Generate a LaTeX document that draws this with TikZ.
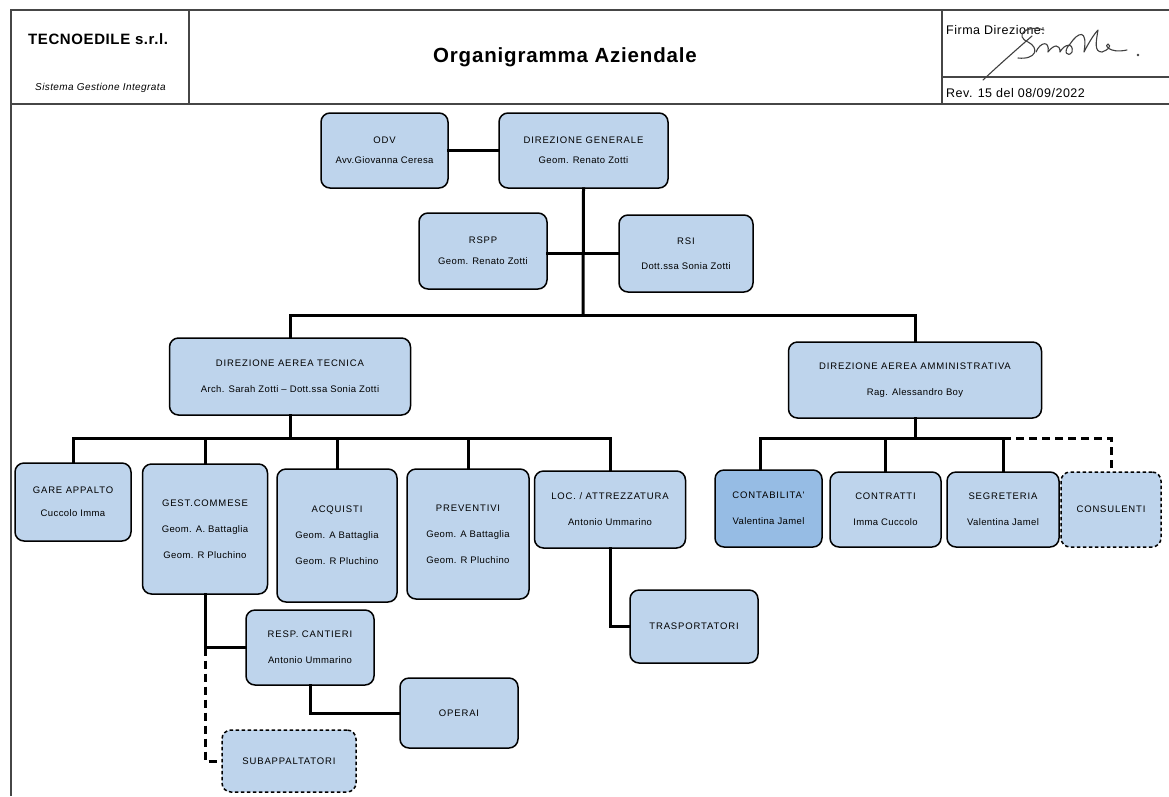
\documentclass[tikz,border=0pt]{standalone}
\usepackage{fontspec}
\setmainfont{Liberation Sans}
\newfontfamily\boxfont[LetterSpace=4]{Liberation Sans}
\newfontfamily\capfont[LetterSpace=9]{Liberation Sans}
\newfontfamily\hdrfont[LetterSpace=4]{Liberation Sans}
\newcommand{\cp}[1]{{\capfont #1}}
\definecolor{boxblue}{RGB}{190,212,236}
\definecolor{boxdark}{RGB}{150,188,228}
\definecolor{framegray}{RGB}{70,70,70}
\tikzset{
  orgbox/.style={draw=black, line width=1.5pt, rounded corners=9pt, fill=boxblue,
    align=center, inner sep=0pt, font=\boxfont\fontsize{9.5}{11}\selectfont},
  darkbox/.style={orgbox, fill=boxdark},
  dashbox/.style={orgbox, dash pattern=on 3.5pt off 2.5pt},
  conn/.style={line width=3pt, line cap=rect},
  dconn/.style={line width=3pt, dash pattern=on 8pt off 5pt},
  frameline/.style={draw=framegray, line width=1.1pt},
  sig/.style={draw=black!75, line width=1.1pt, line cap=round, line join=round}
}
\begin{document}
\begin{tikzpicture}[x=1pt,y=-1pt]
\useasboundingbox (0,0) rectangle (1169,796);
\fill[white] (0,0) rectangle (1169,796);
% header frame
\draw[frameline] (11,796) -- (11,10) -- (1169,10);
\draw[frameline] (11,104) -- (1169,104);
\draw[frameline] (189,10) -- (189,104);
\draw[frameline] (942,10) -- (942,104);
\draw[frameline] (942,77) -- (1169,77);
\node[anchor=west, font=\hdrfont\fontsize{15}{17}\selectfont\bfseries, inner sep=0pt] (company) at (28,39) {TECNOEDILE s.r.l.};
\node[anchor=west, font=\hdrfont\fontsize{10}{12}\selectfont\itshape, inner sep=0pt] (sgi) at (35,88) {Sistema Gestione Integrata};
\node[font=\hdrfont\fontsize{20.5}{22}\selectfont\bfseries, inner sep=0pt] (title) at (565,57) {Organigramma Aziendale};
\node[anchor=west, font=\hdrfont\fontsize{12.5}{14}\selectfont, inner sep=0pt] (firma) at (946,30) {Firma Direzione:};
\node[anchor=west, font=\hdrfont\fontsize{12.5}{14}\selectfont, inner sep=0pt] (rev) at (946,93) {Rev. 15 del 08/09/2022};
% signature
\draw[sig] (983,80) .. controls (1000,64) and (1016,50) .. (1032,36);
\draw[sig] (1044,30) .. controls (1026,24) and (1014,36) .. (1028,42) .. controls (1040,48) and (1036,60) .. (1018,58);
\draw[sig] (1036,52) .. controls (1040,42) and (1050,40) .. (1048,52) .. controls (1054,44) and (1060,44) .. (1060,52)
  .. controls (1064,44) and (1074,42) .. (1072,52) .. controls (1068,58) and (1062,52) .. (1070,44)
  .. controls (1078,32) and (1088,28) .. (1084,52) .. controls (1088,44) and (1094,34) .. (1098,30)
  .. controls (1096,42) and (1094,52) .. (1102,52) .. controls (1108,50) and (1112,46) .. (1108,44)
  .. controls (1104,44) and (1108,54) .. (1127,50);
\fill[black!75] (1138,55) circle (1.3pt);
% boxes
\node[orgbox, minimum width=127pt, minimum height=75pt] (odv) at (384.5,150.5) {\cp{ODV}\\[9pt]Avv.Giovanna Ceresa};
\node[orgbox, minimum width=169pt, minimum height=75pt] (dg) at (583.5,150.5) {\cp{DIREZIONE GENERALE}\\[9pt]Geom. Renato Zotti};
\node[orgbox, minimum width=128pt, minimum height=76pt] (rspp) at (483,251) {\cp{RSPP}\\[10pt]Geom. Renato Zotti};
\node[orgbox, minimum width=134pt, minimum height=77pt] (rsi) at (686,253.5) {\cp{RSI}\\[14pt]Dott.ssa Sonia Zotti};
\node[orgbox, minimum width=241pt, minimum height=77pt] (dat) at (290,376.5) {\cp{DIREZIONE AEREA TECNICA}\\[15pt]Arch. Sarah Zotti – Dott.ssa Sonia Zotti};
\node[orgbox, minimum width=253pt, minimum height=76pt] (daa) at (915,380) {\cp{DIREZIONE AEREA AMMINISTRATIVA}\\[15pt]Rag. Alessandro Boy};
\node[orgbox, minimum width=116pt, minimum height=78pt] (gare) at (73,502) {\cp{GARE APPALTO}\\[12pt]Cuccolo Imma};
\node[orgbox, minimum width=125pt, minimum height=130pt] (gest) at (205,529) {\cp{GEST.COMMESE}\\[15pt]Geom. A. Battaglia\\[15pt]Geom. R Pluchino};
\node[orgbox, minimum width=120pt, minimum height=133pt] (acq) at (337,535.5) {\cp{ACQUISTI}\\[15pt]Geom. A Battaglia\\[15pt]Geom. R Pluchino};
\node[orgbox, minimum width=122pt, minimum height=130pt] (prev) at (468,534) {\cp{PREVENTIVI}\\[15pt]Geom. A Battaglia\\[15pt]Geom. R Pluchino};
\node[orgbox, minimum width=151pt, minimum height=77pt] (loc) at (610,509.5) {\cp{LOC. / ATTREZZATURA}\\[15pt]Antonio Ummarino};
\node[darkbox, minimum width=107pt, minimum height=77pt] (cont) at (768.5,508.5) {\cp{CONTABILITA'}\\[15pt]Valentina Jamel};
\node[orgbox, minimum width=111pt, minimum height=75pt] (contr) at (885.5,509.5) {\cp{CONTRATTI}\\[15pt]Imma Cuccolo};
\node[orgbox, minimum width=112pt, minimum height=75pt] (segr) at (1003,509.5) {\cp{SEGRETERIA}\\[15pt]Valentina Jamel};
\node[dashbox, minimum width=100pt, minimum height=75pt] (cons) at (1111,509.5) {\cp{CONSULENTI}};
\node[orgbox, minimum width=128pt, minimum height=73pt] (trasp) at (694,626.5) {\cp{TRASPORTATORI}};
\node[orgbox, minimum width=128pt, minimum height=75pt] (resp) at (310,647.5) {\cp{RESP. CANTIERI}\\[15pt]Antonio Ummarino};
\node[orgbox, minimum width=118pt, minimum height=70pt] (operai) at (459,713) {\cp{OPERAI}};
\node[dashbox, minimum width=134pt, minimum height=62pt] (sub) at (289,761) {\cp{SUBAPPALTATORI}};
% bus coordinates
\coordinate (bus1) at (583,315);
\coordinate (bus2) at (290,438);
\coordinate (bus3) at (915,438);
% connectors
\draw[conn] (odv.east) -- (dg.west);
\draw[conn] (dg.south) -- (bus1);
\draw[conn] (rsi.west -| rspp.east) -- (rsi.west);
\draw[conn] (dat.north |- bus1) -- (daa.north |- bus1);
\draw[conn] (dat.north |- bus1) -- (dat.north);
\draw[conn] (daa.north |- bus1) -- (daa.north);
\draw[conn] (dat.south) -- (bus2);
\draw[conn] (gare.north |- bus2) -- (loc.north |- bus2);
\draw[conn] (gare.north |- bus2) -- (gare.north);
\draw[conn] (gest.north |- bus2) -- (gest.north);
\draw[conn] (acq.north |- bus2) -- (acq.north);
\draw[conn] (prev.north |- bus2) -- (prev.north);
\draw[conn] (loc.north |- bus2) -- (loc.north);
\draw[conn] (loc.south) -- (loc.south |- trasp.west) -- (trasp.west);
\draw[conn] (daa.south) -- (bus3);
\coordinate (contx) at ([xshift=-8pt]cont.north);
\draw[conn] (contx |- bus3) -- (segr.north |- bus3);
\draw[conn] (contx |- bus3) -- (contx);
\draw[conn] (contr.north |- bus3) -- (contr.north);
\draw[conn] (segr.north |- bus3) -- (segr.north);
\draw[dconn] (segr.north |- bus3) -- (cons.north |- bus3) -- (cons.north);
\draw[conn] (gest.south) -- (gest.south |- resp.west) -- (resp.west);
\draw[dconn] (gest.south |- resp.west) -- (gest.south |- sub.west) -- (sub.west);
\draw[conn] (resp.south) -- (resp.south |- operai.west) -- (operai.west);
\end{tikzpicture}
\end{document}
